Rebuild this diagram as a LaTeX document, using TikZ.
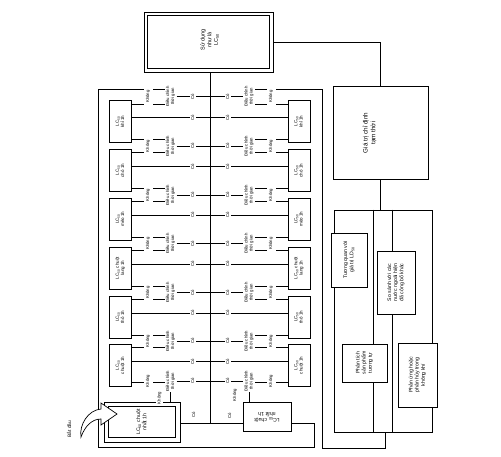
\documentclass[tikz,border=0pt]{standalone}
\usepackage{fontspec}
\setmainfont{Liberation Sans}
\pgfdeclarelayer{bg}
\pgfsetlayers{bg,main}
\newcommand{\rottext}[2][90]{\rotatebox{#1}{\begin{tabular}{@{}c@{}}#2\end{tabular}}}
\begin{document}
\begin{tikzpicture}[x=1pt,y=-1pt,
  conn/.style={line width=0.7pt},
  colbox/.style={draw,line width=0.8pt,fill=white,minimum width=22pt,minimum height=42pt,inner sep=0pt,font=\fontsize{4.5}{5.3}\selectfont},
  lbl/.style={fill=white,inner sep=0.8pt,font=\fontsize{4.3}{5}\selectfont},
  nolbl/.style={fill=white,inner sep=2pt,font=\fontsize{4.3}{5}\selectfont},
  bigbox/.style={draw,line width=0.8pt,fill=white,inner sep=0pt,font=\fontsize{5.2}{6.2}\selectfont},
  inset/.style={line width=0.7pt}
]
\useasboundingbox (0,0) rectangle (501,456);

% top box (double border)
\node[draw,line width=0.9pt,fill=white,minimum width=129pt,minimum height=60pt,inner sep=0pt] (TB) at (208.5,42) {};
\draw[inset] ([xshift=4pt,yshift=-4pt]TB.north west) rectangle ([xshift=-4pt,yshift=4pt]TB.south east);
\node[font=\fontsize{5.5}{6.6}\selectfont,inner sep=0pt] (TBt) at (210,40) {\rottext{Sử dụng\\như là\\LC\textsubscript{50}}};

% right side
\node[bigbox,minimum width=95pt,minimum height=93pt] (GT) at (380.5,132.5) {};
\node[font=\fontsize{6.3}{7.6}\selectfont,inner sep=0pt] (GTt) at (370,133) {\rottext{Giá trị chỉ định\\tạm thời}};
\node[draw,line width=0.8pt,minimum width=98pt,minimum height=222pt,inner sep=0pt] (GR) at (383,321) {};
\node[bigbox,minimum width=36pt,minimum height=54pt] (TQ) at (349,260) {\rottext{Tương quan với\\giá trị LD\textsubscript{50}}};
\node[bigbox,minimum width=38pt,minimum height=63pt] (SS) at (396,282.5) {\rottext{So sánh với các\\nước ngoài hiện\\đã công bố khác}};
\node[bigbox,minimum width=45pt,minimum height=38pt] (PT) at (364.5,363) {\rottext{Phân tích\\sản phẩm\\tương tự}};
\node[bigbox,minimum width=39pt,minimum height=64pt] (PU) at (417.5,375) {\rottext{Phản ứng hoặc\\phân hủy trong\\không khí}};

% left column
\node[colbox] (L0) at (120.5,121.5) {\rottext{LC\textsubscript{50}\\khỉ 1h}};
\node[colbox] (L1) at (120.5,170.5) {\rottext{LC\textsubscript{50}\\chó 1h}};
\node[colbox] (L2) at (120.5,219) {\rottext{LC\textsubscript{50}\\mèo 1h}};
\node[colbox] (L3) at (120.5,268) {\rottext{LC\textsubscript{50} chuột\\lang 1h}};
\node[colbox] (L4) at (120.5,317) {\rottext{LC\textsubscript{50}\\thỏ 1h}};
\node[colbox] (L5) at (120.5,365.5) {\rottext{LC\textsubscript{50}\\chuột 1h}};
% right column
\node[colbox] (R0) at (299,121.5) {\rottext{LC\textsubscript{50}\\khỉ 1h}};
\node[colbox] (R1) at (299,170.5) {\rottext{LC\textsubscript{50}\\chó 1h}};
\node[colbox] (R2) at (299,219) {\rottext{LC\textsubscript{50}\\mèo 1h}};
\node[colbox] (R3) at (299,268) {\rottext{LC\textsubscript{50} chuột\\lang 1h}};
\node[colbox] (R4) at (299,317) {\rottext{LC\textsubscript{50}\\thỏ 1h}};
\node[colbox] (R5) at (299,365.5) {\rottext{LC\textsubscript{50}\\chuột 1h}};

% gap labels
\foreach \jj/\cy in {0/96.5,1/146,2/195,3/243.5,4/292.5,5/341,6/381} {
  \node[lbl] (LD\jj) at (170.5,\cy) {\rottext{Điều chỉnh\\thời gian}};
  \node[nolbl] (LK\jj) at (148,\cy) {\rottext{Không}};
  \node[lbl] (LY\jj) at (193,\cy) {\rottext{Có}};
  \node[lbl] (RD\jj) at (249,\cy) {\rottext{Điều chỉnh\\thời gian}};
  \node[nolbl] (RK\jj) at (271,\cy) {\rottext{Không}};
  \node[lbl] (RY\jj) at (228,\cy) {\rottext{Có}};
}
% middle labels
\foreach \idx/\my in {0/117.5,1/166.5,2/215,3/264,4/313,5/361.5} {
  \node[lbl] (LM\idx) at (193,\my) {\rottext{Có}};
  \node[lbl] (RM\idx) at (228,\my) {\rottext{Có}};
}

% start box (double border) and end box
\node[draw,line width=0.9pt,fill=white,minimum width=76pt,minimum height=40pt,inner sep=0pt,font=\fontsize{5.2}{6.2}\selectfont] (SB) at (142,422) {\rottext{LC\textsubscript{50} chuột\\nhắt 1h}};
\draw[inset] ([xshift=5pt,yshift=-5pt]SB.north west) rectangle ([xshift=-5pt,yshift=5pt]SB.south east);
\node[bigbox,minimum width=48pt,minimum height=29pt] (BB) at (267,416.5) {\rottext[180]{LC\textsubscript{50} chuột\\nhắt 1h}};

\node[lbl] (LK6b) at (159.5,398) {\rottext{Không}};
\node[lbl] (RK6b) at (235,395) {\rottext{Không}};
\node[lbl] (SY) at (194,415) {\rottext{Có}};
\node[lbl] (BY) at (230,416) {\rottext{Có}};
\node[font=\fontsize{4.8}{5.8}\selectfont,inner sep=0pt] (ST) at (70,429) {\rottext{Bắt đầu}};

% start arrow
\draw[line width=0.7pt,fill=white] (101,409) -- (101,403) -- (117,414) -- (101,425) -- (101,419)
  .. controls (92,419) and (85,426) .. (81,437)
  .. controls (79,425) and (88,410) .. (101,409) -- cycle;

% coordinates
\coordinate (CLb) at (210,423);
\coordinate (FL1) at (98,89);
\coordinate (FL2) at (98,447);
\coordinate (FL3) at (314,447);
\coordinate (FL4) at (314,423);
\coordinate (FR1) at (322,89);
\coordinate (FR2) at (322,448);
\coordinate (FR3) at (385,448);

\begin{pgfonlayer}{bg}
  \draw[conn] (CLb |- TB.south) -- (CLb);
  \draw[conn] (TB.east) -- (GT.north |- TB.east) -- (GT.north);
  \draw[conn] (GT.south) -- (GT.south |- GR.north);
  \draw[conn] (GR.north -| 373,0) -- (GR.south -| 373,0);
  \draw[conn] (GR.north -| 392,0) -- (GR.south -| 392,0);
  \foreach \jj/\jm/\ya/\yb in {1/0/139.5/152.5,2/1/188.5/201,3/2/237/250,4/3/286/299,5/4/335/347.5} {
    \draw[conn] (L\jm.east |- 0,\ya) -- (LD\jj |- 0,\ya);
    \draw[conn] (L\jj.east |- 0,\yb) -- (LD\jj |- 0,\yb);
    \draw[conn] (R\jm.west |- 0,\ya) -- (RD\jj |- 0,\ya);
    \draw[conn] (R\jj.west |- 0,\yb) -- (RD\jj |- 0,\yb);
  }
  \foreach \jj in {0,...,6} {
    \draw[conn] (LD\jj) -- (CLb |- LD\jj);
    \draw[conn] (RD\jj) -- (CLb |- RD\jj);
  }
  \foreach \idx in {0,...,5} {
    \draw[conn] (L\idx.east |- LM\idx) -- (CLb |- LM\idx);
    \draw[conn] (R\idx.west |- RM\idx) -- (CLb |- RM\idx);
  }
  \draw[conn] (LD0 |- FL1) -- (FL1) -- (FL2) -- (FL3) -- (FL4) -- (BB.east |- FL4);
  \draw[conn] (L0.east |- 0,104) -- (LD0 |- 0,104);
  \draw[conn] (RD0 |- FR1) -- (FR1) -- (FR2) -- (FR3) -- (FR3 |- GR.south);
  \draw[conn] (R0.west |- 0,104) -- (RD0 |- 0,104);
  \draw[conn] (L5.east |- 0,382) -- (LD6 |- 0,382);
  \draw[conn] (LD6) -- (LD6 |- SB.north);
  \draw[conn] (R5.west |- 0,382) -- (RD6 |- 0,382);
  \draw[conn] (RD6) -- (RD6 |- BB.north);
  \draw[conn] (SB.east |- CLb) -- (BB.west |- CLb);
\end{pgfonlayer}
\end{tikzpicture}
\end{document}
